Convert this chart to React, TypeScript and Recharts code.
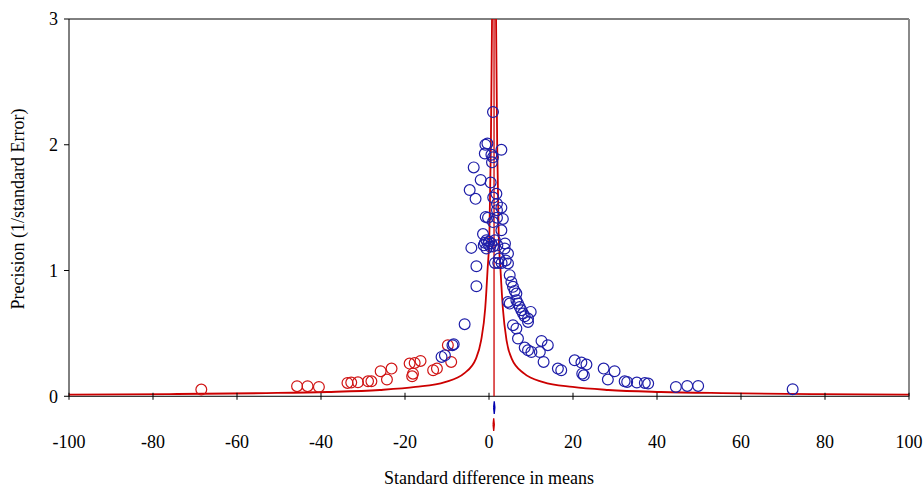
import React from 'react';
import { ComposedChart, XAxis, YAxis, Scatter, Line, ReferenceArea, ReferenceLine } from 'recharts';

const xTickValues = [-100, -80, -60, -40, -20, 0, 20, 40, 60, 80, 100];
const yTickValues = [0, 1, 2, 3];

const observedStudies = [
  { x: 0.95, y: 2.26 }, { x: -0.38, y: 2.01 }, { x: -0.86, y: 2.0 }, { x: 2.95, y: 1.96 },
  { x: -1.0, y: 1.93 }, { x: 0.57, y: 1.92 }, { x: 0.95, y: 1.9 }, { x: 0.71, y: 1.86 },
  { x: -3.64, y: 1.82 }, { x: -1.98, y: 1.72 }, { x: 0.4, y: 1.7 }, { x: -4.6, y: 1.64 },
  { x: 1.76, y: 1.61 }, { x: -3.2, y: 1.57 }, { x: 1.0, y: 1.58 }, { x: 1.9, y: 1.53 },
  { x: 2.95, y: 1.5 }, { x: 1.9, y: 1.48 }, { x: -0.79, y: 1.426 }, { x: -0.24, y: 1.42 },
  { x: 1.9, y: 1.42 }, { x: 3.3, y: 1.41 }, { x: 0.95, y: 1.385 }, { x: -1.43, y: 1.29 },
  { x: 2.95, y: 1.32 }, { x: -4.2, y: 1.18 }, { x: -0.62, y: 1.24 }, { x: 0.0, y: 1.23 },
  { x: 0.57, y: 1.215 }, { x: -1.26, y: 1.2 }, { x: 0.95, y: 1.19 }, { x: -0.62, y: 1.175 },
  { x: -0.2, y: 1.21 }, { x: 1.4, y: 1.24 }, { x: -1.0, y: 1.22 }, { x: 0.3, y: 1.19 },
  { x: 2.0, y: 1.2 }, { x: 3.81, y: 1.215 }, { x: 3.74, y: 1.175 }, { x: 4.52, y: 1.135 },
  { x: 3.98, y: 1.08 }, { x: 4.52, y: 1.056 }, { x: 2.38, y: 1.095 }, { x: 1.4, y: 1.06 },
  { x: 2.2, y: 1.06 }, { x: 3.0, y: 1.06 }, { x: -3.0, y: 1.034 }, { x: 4.93, y: 0.963 },
  { x: 5.33, y: 0.909 }, { x: 5.71, y: 0.87 }, { x: 6.12, y: 0.838 }, { x: 6.52, y: 0.817 },
  { x: -3.0, y: 0.875 }, { x: 4.52, y: 0.75 }, { x: 4.93, y: 0.737 }, { x: 6.52, y: 0.764 },
  { x: 6.9, y: 0.737 }, { x: 7.31, y: 0.71 }, { x: 7.71, y: 0.684 }, { x: 8.1, y: 0.658 },
  { x: 8.5, y: 0.636 }, { x: 9.29, y: 0.618 }, { x: 9.93, y: 0.671 }, { x: 5.71, y: 0.565 },
  { x: 6.52, y: 0.539 }, { x: 9.29, y: 0.591 }, { x: 6.9, y: 0.459 }, { x: 8.5, y: 0.387 },
  { x: 9.29, y: 0.366 }, { x: 10.1, y: 0.352 }, { x: 12.1, y: 0.352 }, { x: 12.5, y: 0.44 },
  { x: 14.0, y: 0.406 }, { x: 13.0, y: 0.273 }, { x: 16.4, y: 0.22 }, { x: 17.2, y: 0.207 },
  { x: 20.4, y: 0.286 }, { x: 22.0, y: 0.268 }, { x: 23.2, y: 0.252 }, { x: 22.2, y: 0.18 },
  { x: 22.6, y: 0.167 }, { x: 27.3, y: 0.22 }, { x: 29.9, y: 0.199 }, { x: 28.3, y: 0.133 },
  { x: 32.3, y: 0.119 }, { x: 32.9, y: 0.114 }, { x: 35.2, y: 0.109 }, { x: 37.1, y: 0.106 },
  { x: 37.9, y: 0.101 }, { x: 44.5, y: 0.074 }, { x: 47.2, y: 0.082 }, { x: 49.8, y: 0.082 },
  { x: 72.3, y: 0.056 }, { x: -5.8, y: 0.573 }, { x: -11.3, y: 0.313 }, { x: -10.5, y: 0.326 },
  { x: -8.7, y: 0.406 }, { x: -8.4, y: 0.414 },
];

const imputedStudies = [
  { x: -68.5, y: 0.053 }, { x: -45.7, y: 0.08 }, { x: -43.2, y: 0.08 }, { x: -40.5, y: 0.074 },
  { x: -33.7, y: 0.106 }, { x: -32.8, y: 0.109 }, { x: -31.2, y: 0.111 }, { x: -28.8, y: 0.119 },
  { x: -28.0, y: 0.119 }, { x: -25.8, y: 0.199 }, { x: -24.3, y: 0.133 }, { x: -23.2, y: 0.22 },
  { x: -18.9, y: 0.26 }, { x: -18.1, y: 0.18 }, { x: -18.3, y: 0.159 }, { x: -17.7, y: 0.265 },
  { x: -16.3, y: 0.281 }, { x: -13.3, y: 0.207 }, { x: -12.4, y: 0.22 }, { x: -9.8, y: 0.406 },
  { x: -9.0, y: 0.273 },
];

// funnel limits (x = effect, y = precision)
const funnelLower = [
  { x: -100, y: 0.0135 }, { x: -76, y: 0.0175 }, { x: -53, y: 0.025 }, { x: -38.5, y: 0.034 },
  { x: -26, y: 0.05 }, { x: -17.5, y: 0.074 }, { x: -10.5, y: 0.113 }, { x: -6.0, y: 0.18 },
  { x: -3.1, y: 0.3 }, { x: -1.9, y: 0.44 }, { x: -0.9, y: 0.7 }, { x: -0.35, y: 1.0 },
  { x: 0.1, y: 1.3 }, { x: 0.45, y: 2.0 }, { x: 0.72, y: 3.0 },
];
const funnelUpper = [
  { x: 1.68, y: 3.0 }, { x: 1.95, y: 2.0 }, { x: 2.3, y: 1.3 }, { x: 2.75, y: 1.0 },
  { x: 3.3, y: 0.7 }, { x: 4.2, y: 0.44 }, { x: 5.4, y: 0.3 }, { x: 8.4, y: 0.18 },
  { x: 12.9, y: 0.113 }, { x: 19.9, y: 0.074 }, { x: 28.4, y: 0.05 }, { x: 40.9, y: 0.034 },
  { x: 55.4, y: 0.025 }, { x: 78.4, y: 0.0175 }, { x: 100, y: 0.0138 },
];
const combinedMean = 1.2;

const observedSummary = { mean: 1.25, lower: 1.1, upper: 1.4, row: -0.09 };
const adjustedSummary = { mean: 1.12, lower: 0.97, upper: 1.27, row: -0.225 };
const diamondHalfHeight = 0.05;

const BLUE = '#1e1ea8';
const RED = '#d01414';
const LINE_RED = '#cc0000';
const FONT = '"Liberation Serif", "Times New Roman", serif';

const diamond = (s: { mean: number; lower: number; upper: number; row: number }) => [
  { x: s.lower, y: s.row },
  { x: s.mean, y: s.row + diamondHalfHeight },
  { x: s.upper, y: s.row },
  { x: s.mean, y: s.row - diamondHalfHeight },
  { x: s.lower, y: s.row },
];

const centerLine = [
  { x: combinedMean, y: 0 },
  { x: combinedMean, y: 3 },
];

const axisTickMarks = xTickValues.map((v) => ({ x: v, y: 0 }));

const circleShape = (color: string) => (props: any) => (
  <circle cx={props.cx} cy={props.cy} r={5.4} fill="none" stroke={color} strokeWidth={1.2} />
);

const tickMarkShape = (props: any) => (
  <line x1={props.cx} x2={props.cx} y1={props.cy - 3.5} y2={props.cy + 3.5} stroke="#000" strokeWidth={1} />
);

const XTick = (props: any) => (
  <text x={props.x} y={props.y + 14} textAnchor="middle" fontFamily={FONT} fontSize={18} fill="#000">
    {props.payload.value}
  </text>
);

const XTitle = (props: any) => {
  const vb = props.viewBox || {};
  return (
    <text x={vb.x + vb.width / 2} y={vb.y + 50} textAnchor="middle" fontFamily={FONT} fontSize={18} fill="#000">
      Standard difference in means
    </text>
  );
};

const YTitle = (props: any) => {
  const cy = 209;
  return (
    <text
      x={24}
      y={cy}
      transform={`rotate(-90, 24, ${cy})`}
      textAnchor="middle"
      fontFamily={FONT}
      fontSize={18}
      fill="#000"
    >
      Precision (1/standard Error)
    </text>
  );
};

export default function App() {
  return (
    <div style={{ position: 'fixed', left: 0, top: 0, width: 924, height: 488, overflow: 'hidden', background: '#fff' }}>
      <ComposedChart width={924} height={500} margin={{ top: 19, right: 15, bottom: 26, left: 0 }}>
        <XAxis
          type="number"
          dataKey="x"
          domain={[-100, 100]}
          ticks={xTickValues}
          axisLine={false}
          tickLine={false}
          tickSize={0}
          tickMargin={0}
          height={40}
          tick={<XTick />}
          interval={0}
          label={(p: any) => <XTitle {...p} />}
        />
        <YAxis
          type="number"
          domain={[-0.3, 3]}
          ticks={yTickValues}
          axisLine={false}
          tickLine={{ stroke: '#000' }}
          tickSize={5}
          tickMargin={6}
          width={69}
          interval={0}
          tick={{ fontFamily: FONT, fontSize: 18, fill: '#000' }}
          label={(p: any) => <YTitle {...p} />}
        />
        <ReferenceArea x1={-100} x2={100} y1={0} y2={3} fill="none" stroke="#000" strokeWidth={1} fillOpacity={0} />
        <ReferenceLine segment={[{ x: 100, y: 0 }, { x: 100, y: 3 }]} stroke="#8a8a8a" strokeWidth={2} />
        <Scatter data={axisTickMarks} dataKey="y" shape={tickMarkShape} isAnimationActive={false} />
        <Scatter data={imputedStudies} dataKey="y" shape={circleShape(RED)} isAnimationActive={false} />
        <Scatter data={observedStudies} dataKey="y" shape={circleShape(BLUE)} isAnimationActive={false} />
        <Line data={funnelLower} dataKey="y" type="monotone" stroke={LINE_RED} strokeWidth={1.8} dot={false} activeDot={false} isAnimationActive={false} />
        <Line data={funnelUpper} dataKey="y" type="monotone" stroke={LINE_RED} strokeWidth={1.8} dot={false} activeDot={false} isAnimationActive={false} />
        <Line data={centerLine} dataKey="y" type="linear" stroke={LINE_RED} strokeWidth={1.3} dot={false} activeDot={false} isAnimationActive={false} />
        <Line data={diamond(observedSummary)} dataKey="y" type="linear" stroke="#0000b0" fill="#0000b0" strokeWidth={1.3} dot={false} activeDot={false} isAnimationActive={false} />
        <Line data={diamond(adjustedSummary)} dataKey="y" type="linear" stroke={LINE_RED} fill={LINE_RED} strokeWidth={1.3} dot={false} activeDot={false} isAnimationActive={false} />
      </ComposedChart>
    </div>
  );
}
